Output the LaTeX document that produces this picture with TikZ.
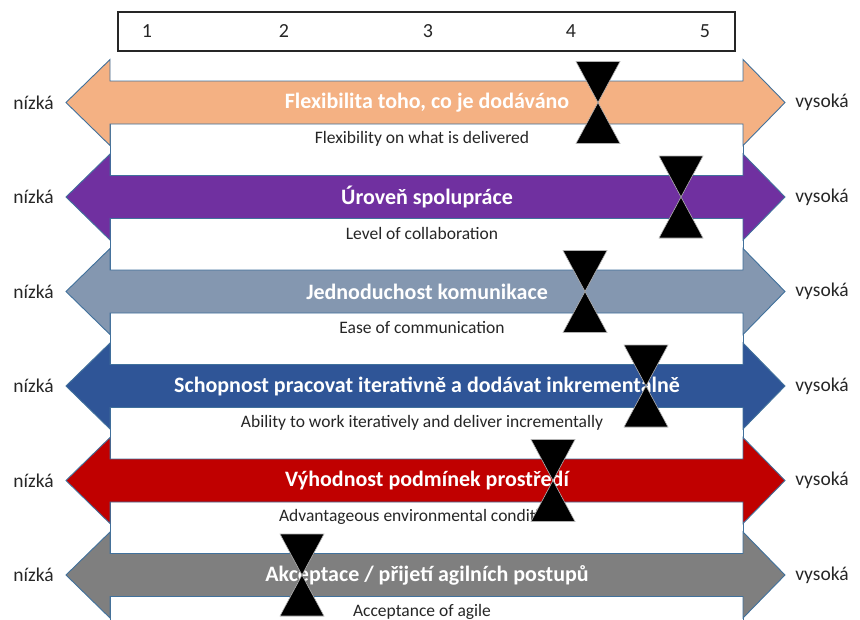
\documentclass[tikz,border=0pt]{standalone}
\usepackage{fontspec}
\setmainfont{Carlito}
\definecolor{peach}{HTML}{F4B183}
\definecolor{violet}{HTML}{7030A0}
\definecolor{slate}{HTML}{8497B0}
\definecolor{royal}{HTML}{2F5597}
\definecolor{crimson}{HTML}{C00000}
\definecolor{ash}{HTML}{7F7F7F}
\definecolor{edgeblue}{HTML}{41719C}
\definecolor{ink}{HTML}{262626}
\begin{document}
\begin{tikzpicture}[x=1pt,y=-1pt,
  outline/.style={draw=edgeblue, line width=0.9pt},
  band/.style={outline, fill=white},
  czlabel/.style={text=white, inner sep=0pt, font=\fontsize{22}{24}\selectfont\bfseries},
  enlabel/.style={text=ink, inner sep=0pt, font=\fontsize{17.5}{20}\selectfont},
  endlabel/.style={text=ink, inner sep=0pt, font=\fontsize{19.5}{22}\selectfont},
  digit/.style={text=ink, inner sep=0pt, font=\fontsize{20}{22}\selectfont},
  marker/.style={fill=black, draw=gray!60, line width=0.6pt}]
\useasboundingbox (0,0) rectangle (860,619);
\clip (0,0) rectangle (860,619);

% scale from 1 to 5
\draw[draw=ink, line width=1.4pt, fill=white] (118,12) rectangle (735,51);
\foreach \k/\xx in {1/147, 2/284, 3/428, 4/571, 5/705}
  \node[digit] (num\k) at (\xx,31) {\k};

% one double arrow per criterion, with its English gloss and rating marker
\foreach \i/\col/\cz/\en/\mx in {
  1/peach/{Flexibilita toho, co je dodáváno}/{Flexibility on what is delivered}/598,
  2/violet/{Úroveň spolupráce}/{Level of collaboration}/681,
  3/slate/{Jednoduchost komunikace}/{Ease of communication}/585,
  4/royal/{Schopnost pracovat iterativně a dodávat inkrementálně}/{Ability to work iteratively and deliver incrementally}/646,
  5/crimson/{Výhodnost podmínek prostředí}/{Advantageous environmental conditions}/553,
  6/ash/{Akceptace / přijetí agilních postupů}/{Acceptance of agile}/302} {
  \pgfmathsetmacro\c{102.5+94.5*(\i-1)}
  % white band below the arrow
  \draw[band] (110,\c-21.5) rectangle (743,\c+73);
  % double-headed arrow
  \draw[outline, fill=\col]
    (66,\c) -- (110,\c-43) -- (110,\c-21.5) -- (743,\c-21.5) -- (743,\c-43)
    -- (785,\c) -- (743,\c+43) -- (743,\c+21.5) -- (110,\c+21.5) -- (110,\c+43) -- cycle;
  \node[czlabel] (cz\i) at (427,\c) {\cz};
  \node[enlabel] (en\i) at (422,\c+36.5) {\en};
  \node[endlabel] (lo\i) at (33.5,\c) {nízká};
  \node[endlabel] (hi\i) at (822,\c) {vysoká};
  % hourglass rating marker
  \coordinate (m\i) at (\mx,\c);
  \draw[marker] (m\i) -- ++(-22,-41) -- ++(44,0) -- cycle;
  \draw[marker] (m\i) -- ++(-22,41) -- ++(44,0) -- cycle;
}
\end{tikzpicture}
\end{document}
